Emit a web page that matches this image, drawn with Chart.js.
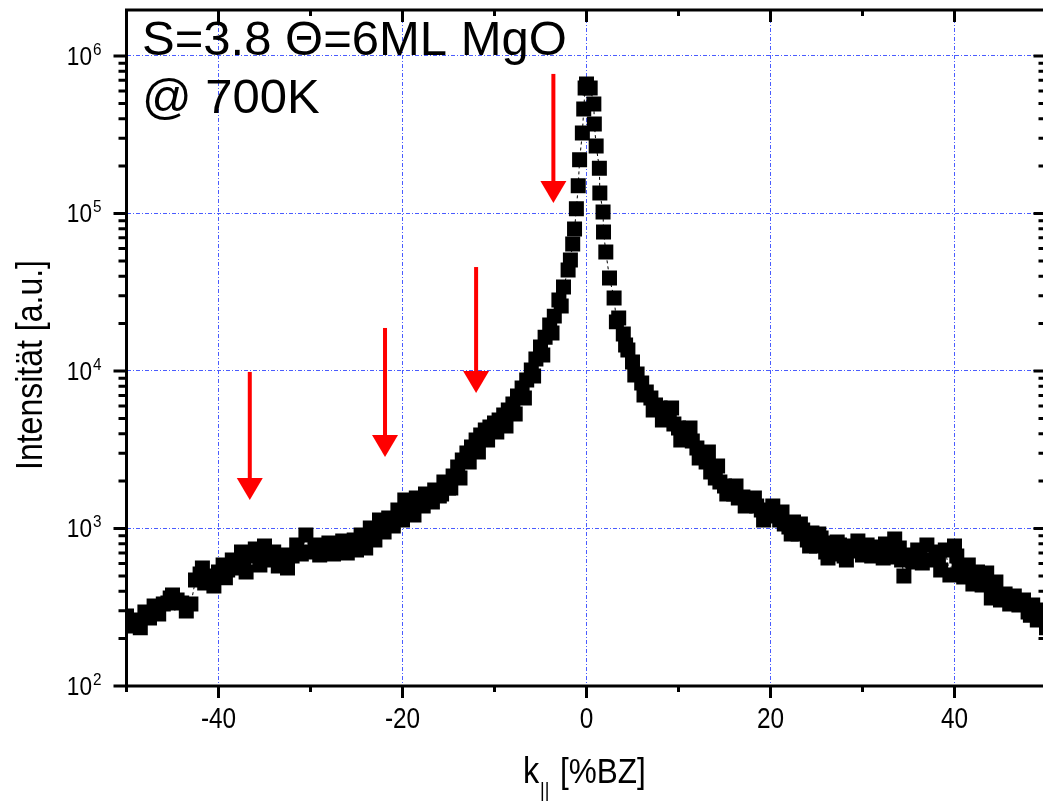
<!DOCTYPE html>
<html>
<head>
<meta charset="utf-8">
<script src="https://cdn.jsdelivr.net/npm/chart.js@4.4.0/dist/chart.umd.min.js"></script>
<style>
  html, body { margin: 0; padding: 0; background: #fff; overflow: hidden; }
  #wrap { width: 1043px; height: 801px; overflow: hidden; position: relative; }
  canvas { display: block; position: absolute; left: 0; top: 0; }
</style>
</head>
<body>
<div id="wrap"><canvas id="rheed" width="1050" height="801"></canvas></div>
<script>
// k parallel [%BZ] and measured intensity [a.u.]
const kPar = [
  -50, -49.5, -49, -48.5, -48, -47.5, -47, -46.5, -46, -45.5,
  -45.25, -45, -44.5, -44, -43.5, -43, -42.5, -42, -41.75, -41.5,
  -41, -40.5, -40, -39.5, -39.25, -39, -38.5, -38, -37.5, -37.25,
  -37, -36.5, -36, -35.5, -35.25, -35, -34.5, -34, -33.5, -33.25,
  -33, -32.5, -32, -31.5, -31, -30.5, -30, -29.5, -29.25, -29,
  -28.5, -28, -27.5, -27.25, -27, -26.5, -26, -25.5, -25.25, -25,
  -24.75, -24.5, -24, -23.5, -23.25, -23, -22.5, -22, -21.5, -21.25,
  -21, -20.5, -20, -19.75, -19.5, -19, -18.75, -18.5, -18, -17.75,
  -17.5, -17, -16.75, -16.5, -16, -15.75, -15.5, -15, -14.75, -14.5,
  -14, -13.75, -13.5, -13, -12.75, -12.5, -12, -11.75, -11.5, -11,
  -10.75, -10.5, -10, -9.75, -9.5, -9, -8.75, -8.5, -8, -7.75,
  -7.5, -7, -6.75, -6.5, -6, -5.75, -5.5, -5, -4.75, -4.5,
  -4, -3.75, -3.5, -3, -2.75, -2.5, -2, -1.75, -1.5, -1.3,
  -1.1, -0.9, -0.75, -0.45, -0.3, -0.15, 0, 0.4, 0.8, 0.85,
  1.05, 1.4, 1.45, 1.8, 1.85, 2.1, 2.5, 3, 3.25, 3.5,
  4, 4.25, 4.5, 5, 5.25, 5.5, 6, 6.25, 6.5, 7,
  7.25, 7.5, 8, 8.25, 8.5, 9, 9.25, 9.5, 10, 10.25,
  10.5, 11, 11.25, 11.5, 12, 12.25, 12.5, 13, 13.25, 13.5,
  14, 14.25, 14.5, 15, 15.25, 15.5, 16, 16.25, 16.5, 17,
  17.25, 17.5, 18, 18.25, 18.5, 19, 19.25, 19.5, 20, 20.25,
  20.5, 21, 21.25, 21.5, 22, 22.25, 22.5, 23, 23.25, 23.5,
  24, 24.25, 24.5, 25, 25.25, 25.5, 26, 26.25, 26.5, 27,
  27.25, 27.5, 28, 28.25, 28.5, 29, 29.5, 30, 30.25, 30.5,
  31, 31.5, 32, 32.25, 32.5, 33, 33.5, 34, 34.25, 34.5,
  35, 35.5, 36, 36.25, 36.5, 37, 37.5, 38, 38.25, 38.5,
  39, 39.5, 40, 40.25, 40.5, 41, 41.5, 42, 42.25, 42.5,
  43, 43.5, 44, 44.25, 44.5, 45, 45.5, 46, 46.25, 46.5,
  47, 47.5, 48, 48.25, 48.5, 49, 49.5, 50
];
const intensity = [
  278, 240, 262, 234, 295, 270, 322, 286, 332, 337,
  362, 378, 352, 337, 299, 332, 471, 514, 561, 451,
  499, 431, 529, 586, 486, 545, 631, 561, 709, 612,
  529, 668, 741, 586, 650, 774, 631, 709, 578, 631,
  679, 561, 668, 786, 689, 910, 709, 786, 752, 679,
  752, 809, 689, 730, 774, 834, 699, 798, 846, 730,
  786, 910, 752, 1007, 910, 846, 1132, 950, 1166, 1099,
  1037, 1310, 1132, 1516, 1349, 1272, 1219, 1562, 1409, 1389,
  1656, 1516, 1472, 1755, 1608, 1656, 1973, 1807, 1807, 2154,
  2457, 2092, 2722, 3015, 2643, 3293, 3648, 3063, 3924, 4221,
  3648, 4410, 4677, 4100, 4886, 5255, 4480, 5653, 6167, 5336,
  6937, 7801, 6739, 8770, 10140, 9290, 11900, 14200, 12650, 16400,
  19600, 17400, 22300, 28200, 25900, 34100, 43800, 50700, 64000, 79800,
  107000, 150000, 219000, 324000, 461000, 627000, 664000, 627000, 496000, 370000,
  268000, 194000, 135000, 102000, 76300, 57000, 38900, 29100, 20500, 21700,
  17200, 14600, 13600, 11400, 9440, 9570, 8390, 7050, 7357, 6739,
  5650, 6081, 5821, 4890, 5336, 5030, 5820, 4606, 4345, 3650,
  4100, 3756, 4345, 3594, 3244, 2806, 2886, 2643, 3063, 2284,
  2092, 2495, 1973, 1861, 1656, 1755, 1656, 1861, 1562, 1585,
  1389, 1472, 1409, 1562, 1389, 1310, 1132, 1272, 1200, 1389,
  1236, 1132, 1272, 1068, 1022, 923, 1099, 923, 1068, 978,
  846, 774, 936, 774, 923, 871, 709, 650, 809, 689,
  820, 786, 668, 631, 774, 720, 834, 679, 752, 786,
  668, 763, 709, 650, 798, 659, 858, 752, 631, 499,
  679, 612, 730, 668, 604, 786, 631, 709, 650, 545,
  730, 507, 774, 668, 561, 492, 586, 444, 486, 529,
  438, 522, 362, 407, 457, 352, 384, 332, 362, 373,
  327, 352, 295, 281, 327, 262, 304, 234
];

const xTickValues = [-40, -20, 0, 20, 40];
const xTickLabels = ['-40', '-20', '0', '20', '40'];
const yDecades = [2, 3, 4, 5, 6];

// red arrows: position on k axis, start and tip intensity
const arrowK = [-36.6, -21.9, -12.0, -3.6];
const arrowFrom = [9860, 18750, 45700, 769000];
const arrowTo = [1516, 2845, 7250, 116700];

const FONT = '"Liberation Sans", Arial, sans-serif';
const gridBlue = '#4a5cff';

function drawText(ctx, s, x, y, size, sx, align) {
  ctx.save();
  ctx.font = size + 'px ' + FONT;
  ctx.textBaseline = 'alphabetic';
  ctx.textAlign = 'left';
  const w = ctx.measureText(s).width * sx;
  let x0 = x;
  if (align === 'center') x0 = x - w / 2;
  else if (align === 'right') x0 = x - w;
  ctx.translate(x0, y);
  ctx.scale(sx, 1);
  ctx.fillText(s, 0, 0);
  ctx.restore();
  return w;
}

function isDecade(v) {
  const l = Math.log10(v);
  return Math.abs(l - Math.round(l)) < 1e-9;
}

// axes frame, ticks, labels, arrows and the annotation text
const frame = {
  id: 'frame',
  afterDatasetsDraw(chart) {
    const { ctx, chartArea: a, scales: { x, y } } = chart;
    ctx.save();
    ctx.fillStyle = '#000';
    ctx.strokeStyle = '#000';
    ctx.lineWidth = 3;

    ctx.beginPath();
    ctx.moveTo(a.left - 1.5, a.top); ctx.lineTo(a.right, a.top);
    ctx.moveTo(a.left - 1.5, a.bottom); ctx.lineTo(a.right, a.bottom);
    ctx.moveTo(a.left, a.top); ctx.lineTo(a.left, a.bottom);
    ctx.moveTo(a.right, a.top); ctx.lineTo(a.right, a.bottom);

    for (let v = -50; v <= 50; v += 10) {
      const px = x.getPixelForValue(v);
      const len = v % 20 === 0 ? 12 : 6;
      ctx.moveTo(px, a.bottom); ctx.lineTo(px, a.bottom + len);
      ctx.moveTo(px, a.top); ctx.lineTo(px, a.top + len);
    }
    yDecades.forEach(n => {
      for (let m = 1; m <= 9; m++) {
        const v = m * Math.pow(10, n);
        if (v > y.max) break;
        const py = y.getPixelForValue(v);
        const len = m === 1 ? 13 : 8;
        ctx.moveTo(a.left - len, py); ctx.lineTo(a.left, py);
        ctx.moveTo(a.right - len, py); ctx.lineTo(a.right, py);
      }
    });
    ctx.stroke();

    // tick labels
    xTickValues.forEach((v, i) => {
      drawText(ctx, xTickLabels[i], x.getPixelForValue(v), 728, 29, 0.84, 'center');
    });
    yDecades.forEach(n => {
      const py = y.getPixelForValue(Math.pow(10, n));
      drawText(ctx, '10', 92, py + 9, 26, 0.87, 'right');
      drawText(ctx, String(n), 93, py - 1, 17, 0.9, 'left');
    });

    // axis titles
    ctx.save();
    ctx.translate(42, 365);
    ctx.rotate(-Math.PI / 2);
    drawText(ctx, 'Intensität [a.u.]', 0, 0, 37, 0.865, 'center');
    ctx.restore();

    drawText(ctx, 'k', 523, 783, 36, 0.9, 'left');
    drawText(ctx, '||', 540, 797, 20, 0.9, 'left');
    drawText(ctx, '[%BZ]', 560, 783, 35, 0.9, 'left');

    // annotation
    drawText(ctx, 'S=3.8 \u0398=6ML MgO', 142, 55, 49, 1, 'left');
    drawText(ctx, '@ 700K', 142, 113, 49, 1, 'left');

    // arrows
    ctx.fillStyle = '#ff0000';
    arrowK.forEach((k, i) => {
      const px = x.getPixelForValue(k);
      const y0 = y.getPixelForValue(arrowFrom[i]);
      const y1 = y.getPixelForValue(arrowTo[i]);
      const head = 22;
      ctx.fillRect(px - 2, y0, 4, y1 - head - y0 + 1);
      ctx.beginPath();
      ctx.moveTo(px - 13, y1 - head);
      ctx.lineTo(px + 13, y1 - head);
      ctx.lineTo(px, y1);
      ctx.closePath();
      ctx.fill();
    });
    ctx.restore();
  }
};

const points = kPar.map((k, i) => ({ x: k, y: intensity[i] }));

new Chart(document.getElementById('rheed'), {
  type: 'scatter',
  data: {
    datasets: [{
      data: points,
      showLine: true,
      borderColor: '#000',
      borderWidth: 1,
      borderDash: [3, 3],
      pointStyle: 'rect',
      pointRadius: 10.6,
      pointBorderWidth: 0,
      pointBackgroundColor: '#000',
      clip: 0
    }]
  },
  options: {
    responsive: false,
    animation: false,
    events: [],
    layout: { autoPadding: false, padding: { left: 126.5, right: 3.5, top: 10, bottom: 115 } },
    plugins: { legend: { display: false }, tooltip: { enabled: false } },
    scales: {
      x: {
        type: 'linear',
        min: -50,
        max: 50,
        ticks: { display: false, stepSize: 10 },
        grid: {
          drawTicks: false,
          lineWidth: 1,
          color: c => (c.tick && c.tick.value % 20 === 0 && Math.abs(c.tick.value) < 50) ? gridBlue : 'rgba(0,0,0,0)'
        },
        border: { display: false, dash: [4, 2, 1, 2] },
        afterFit: s => { s.height = 0; }
      },
      y: {
        type: 'logarithmic',
        min: 100,
        max: 1.958e6,
        ticks: { display: false },
        grid: {
          drawTicks: false,
          lineWidth: 1,
          color: c => (c.tick && isDecade(c.tick.value) && c.tick.value > 100) ? gridBlue : 'rgba(0,0,0,0)'
        },
        border: { display: false, dash: [4, 2, 1, 2] },
        afterFit: s => { s.width = 0; }
      }
    }
  },
  plugins: [frame]
});
</script>
</body>
</html>
